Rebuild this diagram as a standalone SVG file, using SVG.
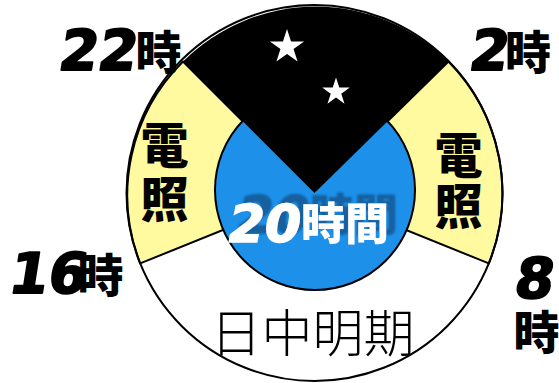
<svg xmlns="http://www.w3.org/2000/svg" width="559" height="383" viewBox="0 0 559 383">
<style>
.seg{stroke:#000;stroke-width:2;stroke-linejoin:round}
.num{font-family:"DejaVu Sans",sans-serif;font-weight:bold;text-anchor:middle}
.kj{font-family:"Noto Sans CJK JP",sans-serif;font-weight:900;text-anchor:middle}
.vt{font-family:"Noto Sans CJK JP",sans-serif;font-weight:900;writing-mode:vertical-rl;text-anchor:start}
.blk{fill:#000;stroke:#000;stroke-width:2;stroke-linejoin:round}
.wht{fill:#fff}
</style>
<defs>
<polygon id="star" points="0,-10 2.245,-3.09 9.51,-3.09 3.633,1.18 5.88,8.09 0,3.82 -5.88,8.09 -3.633,1.18 -9.51,-3.09 -2.245,-3.09" fill="#fff"/>
<filter id="shadow" x="-10%" y="-30%" width="130%" height="160%">
<feGaussianBlur in="SourceAlpha" stdDeviation="1.2" result="b"/>
<feOffset in="b" dx="9" dy="-9" result="o"/>
<feFlood flood-color="#13609f"/>
<feComposite in2="o" operator="in" result="s"/>
<feMerge><feMergeNode in="s"/><feMergeNode in="SourceGraphic"/></feMerge>
</filter>
</defs>
<g id="dial">
<circle cx="314.5" cy="193" r="188" fill="#fff"/>
<path id="light-left" class="seg" d="M314.5 193 L140.2 263.4 A188 188 0 0 1 183 61.5 Z" fill="#fffaa0"/>
<path id="light-right" class="seg" d="M314.5 193 L448.5 61.5 A188 188 0 0 1 488.8 263.4 Z" fill="#fffaa0"/>
<circle id="light-period" cx="315" cy="190" r="100" fill="#1d90ea" stroke="#000" stroke-width="2"/>
<path id="dark" d="M314.5 193 L183 61.5 A188 188 0 0 1 448.5 61.5 Z" fill="#000"/>
<circle cx="314.5" cy="193" r="188" fill="none" stroke="#000" stroke-width="2"/>
<use href="#star" transform="translate(287,47) scale(1.8)"/>
<use href="#star" transform="translate(336,92) scale(1.45)"/>
</g>
<g id="connectors"></g>
<g id="label-22">
<text class="num blk" transform="translate(96,70) skewX(-9)" font-size="56">22</text>
<text class="kj" x="158.5" y="69" font-size="46">時</text>
</g>
<g id="label-2">
<text class="num blk" transform="translate(487,70) skewX(-9)" font-size="56">2</text>
<text class="kj" x="528" y="69" font-size="46">時</text>
</g>
<g id="label-16">
<text class="num blk" transform="translate(46,293) skewX(-9)" font-size="56">16</text>
<text class="kj" x="100.5" y="292" font-size="46">時</text>
</g>
<g id="label-8">
<text class="num blk" transform="translate(532,298) skewX(-9)" font-size="56">8</text>
<text class="kj" x="536.5" y="349" font-size="46">時</text>
</g>
<g id="denshou-left">
<text class="vt" x="164.5" y="121" font-size="48" letter-spacing="6">電照</text>
</g>
<g id="denshou-right">
<text class="vt" x="458.5" y="131" font-size="48" letter-spacing="3">電照</text>
</g>
<g id="label-20h" filter="url(#shadow)">
<text class="wht" font-size="44"><tspan class="num" font-size="52" x="265" y="242" stroke="#fff" stroke-width="1.5" font-style="oblique">20</tspan><tspan class="kj" x="345" y="240">時間</tspan></text>
</g>
<g id="label-day">
<text x="312.5" y="352" font-size="51" font-family="Noto Sans CJK JP, sans-serif" font-weight="300" text-anchor="middle" fill="#000">日中明期</text>
</g>
</svg>
